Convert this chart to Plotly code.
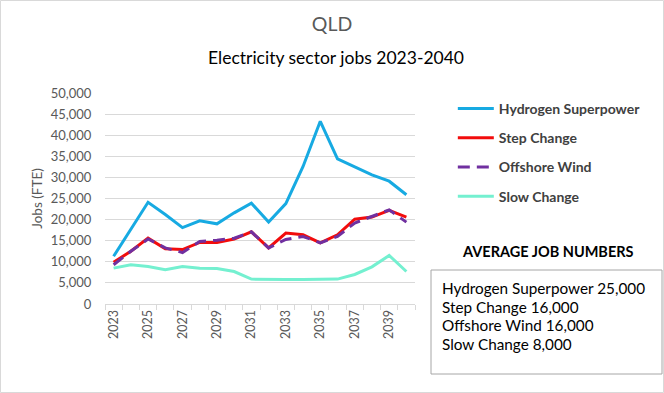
import plotly.graph_objects as go

years = list(range(2023, 2041))
hydrogen = [11300, 17600, 24100, 21200, 18100, 19700, 19000, 21600, 23900, 19400,
            23800, 32600, 43300, 34400, 32500, 30600, 29100, 25900]
step_change = [9900, 12500, 15600, 13100, 12900, 14600, 14600, 15400, 17100, 13300,
               16800, 16400, 14500, 16400, 20100, 20600, 22200, 20600]
offshore = [9300, 12500, 15400, 13300, 12200, 14800, 15100, 15600, 17100, 13300,
            15300, 16000, 14500, 16000, 19200, 20800, 22300, 19400]
slow_change = [8500, 9300, 8900, 8100, 8900, 8500, 8400, 7700, 5900, 5800,
               5800, 5800, 5900, 5900, 7000, 8800, 11500, 7700]
x_ticks = list(range(2023, 2041, 2))
y_ticks = list(range(0, 50001, 5000))
avg_labels = ["Hydrogen Superpower 25,000", "Step Change 16,000",
              "Offshore Wind 16,000", "Slow Change 8,000"]

FONT = "Lato"
series = [
    ("Hydrogen Superpower", hydrogen, "#17AAE2", "solid"),
    ("Step Change", step_change, "#F20C0C", "solid"),
    ("Offshore Wind", offshore, "#7030A0", "12px,7px"),
    ("Slow Change", slow_change, "#74F0D0", "solid"),
]

fig = go.Figure()
for i, (name, vals, color, dash) in enumerate(series):
    fig.add_trace(go.Scatter(x=years, y=vals, name=name, mode="lines",
                             legendgroup=f"g{i}",
                             line=dict(color=color, width=3, dash=dash)))

fig.update_layout(
    width=664, height=393,
    margin=dict(l=105, r=249, t=93, b=89),
    paper_bgcolor="white", plot_bgcolor="white",
    font=dict(family=FONT, color="#595959", size=13),
    title=dict(text="QLD", x=0.5, xref="container", xanchor="center",
               y=1 - 24 / 393, yanchor="middle",
               font=dict(family=FONT, size=19.5, color="#595959")),
    showlegend=True,
    legend=dict(x=1.122, y=1.0, xanchor="left", yanchor="top",
                font=dict(family=FONT, size=14, color="#404040", weight="bold"),
                tracegroupgap=8, itemwidth=36, bgcolor="rgba(0,0,0,0)"),
    xaxis=dict(range=[2022.5, 2040.5], tickvals=x_ticks,
               ticktext=[str(v) for v in x_ticks], tickangle=-90,
               ticks="", showgrid=False, zeroline=False,
               showline=True, linecolor="#D9D9D9", linewidth=1,
               tickfont=dict(size=12.5, color="#595959"),
               minor=dict(tick0=2022.5, dtick=1, ticks="outside", ticklen=5,
                          tickcolor="#D9D9D9", showgrid=False)),
    yaxis=dict(range=[0, 50000], tickvals=y_ticks,
               ticktext=[f"{v:,}" for v in y_ticks],
               showgrid=True, gridcolor="#D9D9D9", gridwidth=1,
               zeroline=False, showline=False,
               ticks="outside", ticklen=10, tickcolor="rgba(0,0,0,0)",
               tickfont=dict(size=13, color="#595959"),
               title=dict(text="Jobs (FTE)", standoff=5,
                          font=dict(size=13.5, color="#595959"))),
)

fig.add_annotation(text="Electricity sector jobs 2023-2040", xref="paper", yref="paper",
                   x=(336 - 105) / 310, y=(304 - 58) / 211, xanchor="center",
                   yanchor="middle", showarrow=False,
                   font=dict(family=FONT, size=17.5, color="#000000"))
fig.add_annotation(text="<b>AVERAGE JOB NUMBERS</b>", xref="paper", yref="paper",
                   x=(548 - 105) / 310, y=(304 - 251) / 211, xanchor="center",
                   yanchor="middle", showarrow=False,
                   font=dict(family=FONT, size=14.5, color="#000000"))
fig.add_shape(type="rect", xref="paper", yref="paper",
              x0=(431 - 105) / 310, x1=(662 - 105) / 310,
              y0=(304 - 374) / 211, y1=(304 - 270) / 211,
              line=dict(color="#A6A6A6", width=1), fillcolor="white")
for k, line in enumerate(avg_labels):
    fig.add_annotation(text=line, xref="paper", yref="paper",
                       x=(440 - 105) / 310, y=(304 - (288 + 18.7 * k)) / 211,
                       xanchor="left", yanchor="middle", align="left", showarrow=False,
                       font=dict(family=FONT, size=15.3, color="#000000"))
fig.add_shape(type="rect", xref="x domain", yref="y domain",
              x0=-104.5 / 310, x1=(663.5 - 105) / 310,
              y0=-(392.5 - 304) / 211, y1=(304 - 0.5) / 211,
              line=dict(color="#D9D9D9", width=1))

fig.write_html("out.html", config={"displayModeBar": False},
               post_script="document.body.style.margin='0';document.body.style.overflow='hidden';")
